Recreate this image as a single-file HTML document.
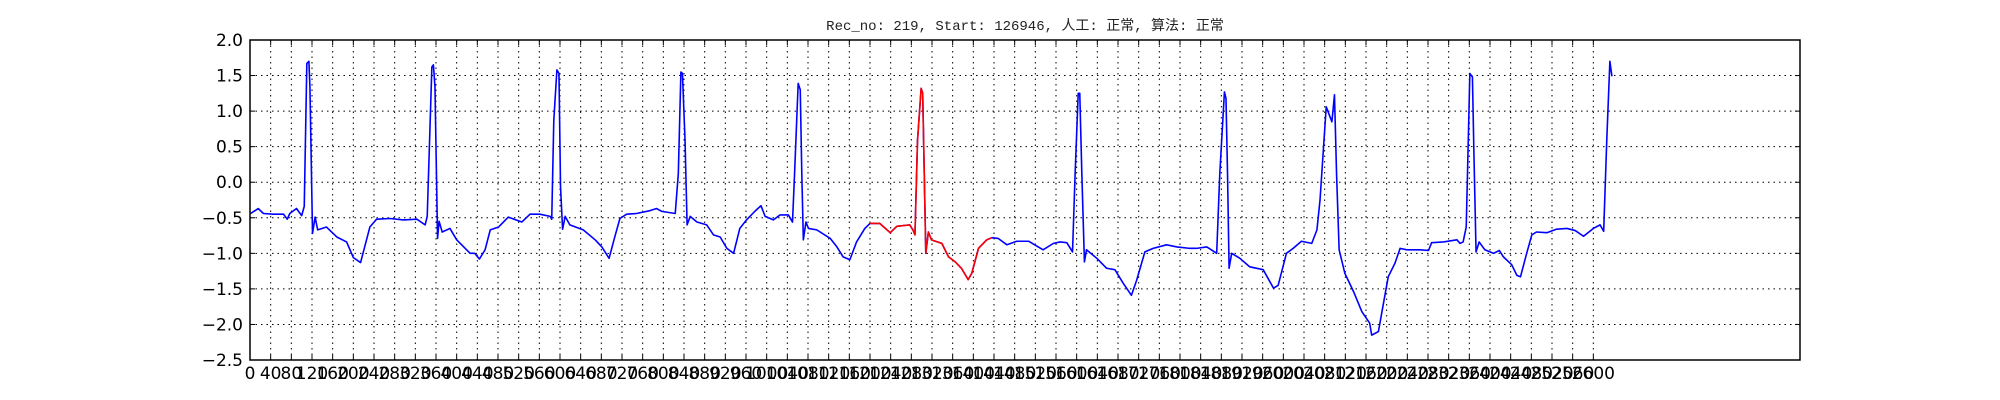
<!DOCTYPE html>
<html><head><meta charset="utf-8"><style>
html,body{margin:0;padding:0;background:#fff;}
svg{display:block;}
</style></head><body>
<svg id="chart" width="2000" height="400" xmlns="http://www.w3.org/2000/svg">
<text x="1025" y="30" text-anchor="middle" font-family="'Liberation Mono','Noto Sans CJK SC',monospace" font-size="14" fill="#222">Rec_no: 219, Start: 126946, 人工: 正常, 算法: 正常</text>
<g id="grid"></g>
<g id="series"></g>
<rect x="250" y="40" width="1550" height="320" fill="none" stroke="#000" stroke-width="1.5"/>
<g id="ticks"></g>
</svg>
<script>
const sampleIdx = [1,16,26,45,65,72,77,90,100,105,110,114,116,121,126,131,148,168,187,200,214,232,245,271,297,323,339,343,352,355,358,363,366,372,387,400,426,435,444,455,465,481,500,526,542,561,581,584,588,594,598,601,605,610,619,645,668,681,695,706,716,729,748,774,787,797,823,829,834,837,842,846,852,865,884,897,910,923,936,948,961,977,989,997,1013,1026,1042,1050,1054,1061,1065,1068,1071,1076,1081,1097,1123,1136,1148,1161,1174,1190,1200,1219,1239,1252,1277,1283,1287,1292,1299,1302,1305,1308,1313,1319,1339,1352,1365,1377,1390,1397,1410,1426,1436,1448,1465,1484,1507,1535,1555,1568,1581,1592,1597,1603,1606,1610,1615,1619,1639,1658,1674,1690,1706,1716,1732,1748,1774,1794,1819,1832,1852,1871,1877,1886,1889,1892,1895,1900,1916,1935,1961,1981,1990,2006,2019,2035,2055,2065,2071,2083,2094,2099,2103,2108,2119,2136,2152,2167,2171,2184,2203,2216,2226,2239,2265,2281,2287,2310,2336,2342,2348,2354,2361,2366,2369,2373,2379,2390,2407,2418,2426,2442,2452,2459,2471,2481,2490,2510,2529,2549,2565,2581,2600,2613,2620,2626,2632,2636];
const sampleVal = [-0.44,-0.37,-0.44,-0.45,-0.45,-0.52,-0.44,-0.37,-0.47,-0.34,1.67,1.70,1.34,-0.72,-0.49,-0.67,-0.63,-0.77,-0.84,-1.06,-1.13,-0.63,-0.52,-0.51,-0.53,-0.52,-0.60,-0.48,1.62,1.65,1.34,-0.79,-0.55,-0.70,-0.65,-0.81,-1.00,-1.00,-1.08,-0.95,-0.67,-0.63,-0.49,-0.56,-0.45,-0.45,-0.48,-0.52,0.87,1.58,1.53,-0.06,-0.66,-0.48,-0.60,-0.67,-0.81,-0.91,-1.07,-0.77,-0.51,-0.45,-0.44,-0.40,-0.37,-0.41,-0.44,0.12,1.55,1.53,0.59,-0.60,-0.48,-0.56,-0.60,-0.74,-0.77,-0.93,-1.00,-0.65,-0.53,-0.41,-0.33,-0.48,-0.53,-0.46,-0.46,-0.56,0.12,1.39,1.30,0.12,-0.81,-0.56,-0.65,-0.67,-0.79,-0.91,-1.05,-1.09,-0.84,-0.65,-0.58,-0.58,-0.71,-0.62,-0.60,-0.67,-0.74,0.59,1.32,1.25,0.12,-1.00,-0.70,-0.81,-0.86,-1.05,-1.12,-1.21,-1.37,-1.28,-0.93,-0.81,-0.78,-0.79,-0.88,-0.83,-0.83,-0.95,-0.86,-0.84,-0.85,-0.98,0.12,1.25,1.25,0.12,-1.12,-0.95,-1.07,-1.21,-1.23,-1.42,-1.59,-1.38,-0.98,-0.93,-0.88,-0.91,-0.93,-0.93,-0.91,-1.00,0.12,1.27,1.18,0.12,-1.21,-1.00,-1.07,-1.19,-1.23,-1.49,-1.45,-1.00,-0.93,-0.83,-0.86,-0.67,-0.25,1.06,0.85,1.23,0.12,-0.95,-1.28,-1.54,-1.82,-1.98,-2.15,-2.10,-1.33,-1.14,-0.93,-0.95,-0.95,-0.96,-0.85,-0.84,-0.81,-0.86,-0.84,-0.63,1.53,1.48,0.36,-0.98,-0.84,-0.95,-1.00,-0.96,-1.05,-1.16,-1.31,-1.33,-1.00,-0.74,-0.70,-0.71,-0.66,-0.65,-0.68,-0.76,-0.65,-0.60,-0.69,0.59,1.70,1.49];
const highlightRange = [1200, 1436];
const yTicks = [2.0,1.5,1.0,0.5,0.0,-0.5,-1.0,-1.5,-2.0,-2.5];
const xTickStep = 40, xTickMax = 2600;

const L=250,R=1800,T=40,B=360,XMAX=3000,YMIN=-2.5,YMAX=2.0;
const sx = i => L + i/XMAX*(R-L);
const sy = v => T + (YMAX-v)/(YMAX-YMIN)*(B-T);
const NS='http://www.w3.org/2000/svg';
const grid=document.getElementById('grid'), ticks=document.getElementById('ticks'), series=document.getElementById('series');
function mk(tag,attrs,parent){const e=document.createElementNS(NS,tag);for(const k in attrs)e.setAttribute(k,attrs[k]);parent.appendChild(e);return e;}
const fmt = v => (v<0?'\u2212':'')+Math.abs(v).toFixed(1);
yTicks.forEach(v=>{
  const y=sy(v);
  if(v>YMIN && v<YMAX){const g=mk('line',{x1:L,x2:R,y1:y,y2:y,stroke:'#000','stroke-width':1,'stroke-dasharray':'1.5,4'},grid);
  
  }
  const t1=mk('line',{x1:L,x2:L+5,y1:y,y2:y,stroke:'#000','stroke-width':1},ticks);
  
  
  const t2=mk('line',{x1:R-5,x2:R,y1:y,y2:y,stroke:'#000','stroke-width':1},ticks);
  
  
  const lb=mk('text',{x:243,y:y+6,'text-anchor':'end','font-family':"'DejaVu Sans','Liberation Sans',sans-serif",'font-size':17,fill:'#000'},ticks);
  lb.textContent=fmt(v);
  
  
});
for(let i=0;i<=xTickMax;i+=xTickStep){
  const x=sx(i);
  if(i>0){const g=mk('line',{x1:x,x2:x,y1:T,y2:B,stroke:'#000','stroke-width':1,'stroke-dasharray':'1.5,4'},grid);
  
  }
  const t1=mk('line',{x1:x,x2:x,y1:B-5,y2:B,stroke:'#000','stroke-width':1},ticks);
  
  
  const t2=mk('line',{x1:x,x2:x,y1:T,y2:T+5,stroke:'#000','stroke-width':1},ticks);
  
  
  const lb=mk('text',{x:x,y:379,'text-anchor':'middle','font-family':"'DejaVu Sans','Liberation Sans',sans-serif",'font-size':17,fill:'#000'},ticks);
  lb.textContent=String(i);
  
  
}
function pathFor(filter){let d='';let first=true;sampleIdx.forEach((i,k)=>{if(!filter(i))return;d+=(first?'M':'L')+sx(i).toFixed(2)+','+sy(sampleVal[k]).toFixed(2);first=false;});return d;}
const blue=mk('path',{d:pathFor(()=>true),fill:'none',stroke:'#0000ff','stroke-width':1.6,'stroke-linejoin':'round'},series);


const red=mk('path',{d:pathFor(i=>i>=highlightRange[0]&&i<=highlightRange[1]),fill:'none',stroke:'#ff0000','stroke-width':1.6,'stroke-linejoin':'round'},series);


</script>
</body></html>
